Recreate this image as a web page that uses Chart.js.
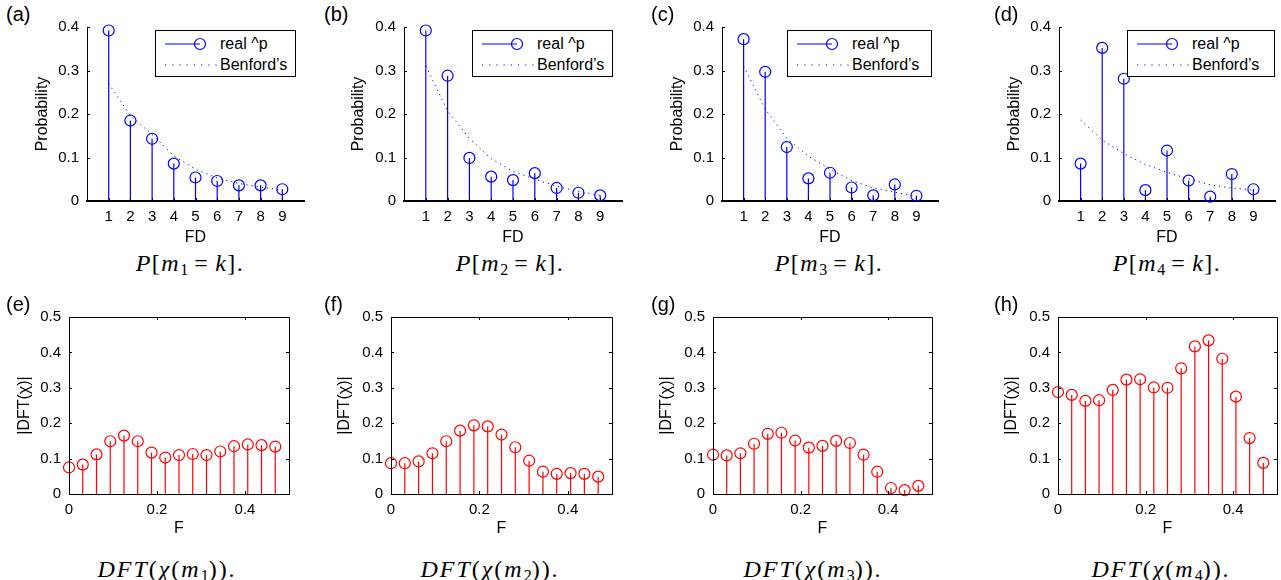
<!DOCTYPE html>
<html>
<head>
<meta charset="utf-8">
<script src="https://cdn.jsdelivr.net/npm/chart.js@4/dist/chart.umd.min.js"></script>
<style>
  html, body { margin: 0; padding: 0; background: #fff; }
  #fig { position: relative; width: 1281px; height: 580px; overflow: hidden; font-family: 'Liberation Sans', Arial, sans-serif; color: #000; }
  #fig canvas { position: absolute; }
  .plabel { position: absolute; font-size: 20px; line-height: 20px; white-space: nowrap; }
  .caption { position: absolute; font-family: 'Liberation Serif', 'DejaVu Serif', serif; font-size: 24px; line-height: 24px; white-space: nowrap; transform: translateX(-50%); letter-spacing: 1.5px; }
  .caption.dft { letter-spacing: 2px; }
  .caption .eq { margin: 0 6px; }
  .caption sub { font-size: 16px; vertical-align: -4px; line-height: 0; letter-spacing: 0; }
  .legend { position: absolute; top: 30px; height: 47px; border: 1.5px solid #000; box-sizing: border-box; background: #fff; font-size: 16px; }
  .legend svg { position: absolute; left: 9px; }
  .legend span { position: absolute; left: 64px; line-height: 18px; white-space: nowrap; }
</style>
</head>
<body>
<div id="fig"></div>
<script>
// ── DATA ──
const fdTicks = [1, 2, 3, 4, 5, 6, 7, 8, 9]
const probTicks = [0, 0.1, 0.2, 0.3, 0.4]

const realM1 = [0.392, 0.185, 0.143, 0.086, 0.054, 0.046, 0.036, 0.036, 0.027]
const realM2 = [0.392, 0.288, 0.099, 0.056, 0.048, 0.064, 0.030, 0.019, 0.013]
const realM3 = [0.372, 0.297, 0.124, 0.052, 0.065, 0.031, 0.013, 0.038, 0.012]
const realM4 = [0.086, 0.352, 0.281, 0.025, 0.116, 0.047, 0.010, 0.062, 0.027]

const benfordM1 = [0.270, 0.196, 0.153, 0.104, 0.073, 0.053, 0.040, 0.032, 0.025]
const benfordM2 = [0.310, 0.207, 0.144, 0.097, 0.068, 0.050, 0.034, 0.022, 0.013]
const benfordM3 = [0.310, 0.211, 0.144, 0.103, 0.073, 0.047, 0.030, 0.020, 0.011]
const benfordM4 = [0.186, 0.140, 0.109, 0.084, 0.066, 0.051, 0.037, 0.030, 0.025]

const fBins = [0, 0.03125, 0.0625, 0.09375, 0.125, 0.15625, 0.1875, 0.21875,
               0.25, 0.28125, 0.3125, 0.34375, 0.375, 0.40625, 0.4375, 0.46875]
const fTicks = [0, 0.2, 0.4]
const dftTicks = [0, 0.1, 0.2, 0.3, 0.4, 0.5]

const dftM1 = [0.075, 0.083, 0.112, 0.149, 0.165, 0.149, 0.117, 0.103, 0.110, 0.113, 0.110, 0.120, 0.135, 0.140, 0.138, 0.134]
const dftM2 = [0.087, 0.087, 0.092, 0.115, 0.149, 0.179, 0.194, 0.191, 0.168, 0.132, 0.094, 0.063, 0.057, 0.059, 0.057, 0.049]
const dftM3 = [0.111, 0.109, 0.115, 0.142, 0.170, 0.173, 0.151, 0.131, 0.136, 0.150, 0.144, 0.111, 0.063, 0.017, 0.011, 0.023]
const dftM4 = [0.288, 0.280, 0.263, 0.265, 0.294, 0.323, 0.324, 0.301, 0.300, 0.355, 0.417, 0.434, 0.382, 0.275, 0.158, 0.088]

// ── LAYOUT ──
const BLUE = '#0000ff'
const RED = '#ff0000'
const fig = document.getElementById('fig')

Chart.defaults.font.family = "'Liberation Sans', Arial, sans-serif"
Chart.defaults.color = '#000'

const topPanels = [
  { tag: '(a)', n: 1, real: realM1, benford: benfordM1, left: 87,   right: 304,  titleX: 43,   legLeft: 155,  legW: 141, capX: 190 },
  { tag: '(b)', n: 2, real: realM2, benford: benfordM2, left: 404,  right: 622,  titleX: 359,  legLeft: 472,  legW: 141, capX: 510 },
  { tag: '(c)', n: 3, real: realM3, benford: benfordM3, left: 722,  right: 938,  titleX: 678,  legLeft: 787,  legW: 145, capX: 829 },
  { tag: '(d)', n: 4, real: realM4, benford: benfordM4, left: 1059, right: 1275, titleX: 1015, legLeft: 1127, legW: 148, capX: 1167 }
]
const bottomPanels = [
  { tag: '(e)', n: 1, vals: dftM1, left: 69,   right: 289,  titleX: 25,   capX: 167 },
  { tag: '(f)', n: 2, vals: dftM2, left: 391,  right: 612,  titleX: 345,  capX: 490 },
  { tag: '(g)', n: 3, vals: dftM3, left: 713,  right: 932,  titleX: 667,  capX: 813 },
  { tag: '(h)', n: 4, vals: dftM4, left: 1058, right: 1277, titleX: 1012, capX: 1161 }
]
const tagX = [6, 324, 651, 994]

// ── MATLAB-STYLE AXES (inward ticks, optional box) ──
const matlabAxes = {
  id: 'matlabAxes',
  afterDraw(chart, args, opts) {
    const { ctx, chartArea: a, scales: { x, y } } = chart
    const tl = 3
    ctx.save()
    ctx.strokeStyle = '#000'
    ctx.lineWidth = 1
    ctx.beginPath()
    x.ticks.forEach(t => {
      const px = Math.round(x.getPixelForValue(t.value)) + 0.5
      ctx.moveTo(px, a.bottom); ctx.lineTo(px, a.bottom - tl)
      if (opts.box) { ctx.moveTo(px, a.top); ctx.lineTo(px, a.top + tl) }
    })
    y.ticks.forEach(t => {
      const py = Math.round(y.getPixelForValue(t.value)) + 0.5
      ctx.moveTo(a.left, py); ctx.lineTo(a.left + tl, py)
      if (opts.box) { ctx.moveTo(a.right, py); ctx.lineTo(a.right - tl, py) }
    })
    if (opts.box) ctx.rect(Math.round(a.left) + 0.5, Math.round(a.top) + 0.5, Math.round(a.right - a.left), Math.round(a.bottom - a.top))
    ctx.stroke()
    ctx.restore()
  }
}

function addDiv(cls, html, style) {
  const el = document.createElement('div')
  el.className = cls
  el.innerHTML = html
  Object.assign(el.style, style)
  fig.appendChild(el)
  return el
}

function stemChart(p, cfg) {
  const padTop = 12, padRight = 8
  const yW = Math.round(p.left - (p.titleX - 9.6))
  const w = yW + (p.right - p.left) + padRight
  const h = padTop + (cfg.bottom - cfg.top) + cfg.xH
  const canvas = document.createElement('canvas')
  canvas.width = w
  canvas.height = h
  canvas.style.left = (p.left - yW) + 'px'
  canvas.style.top = (cfg.top - padTop) + 'px'
  fig.appendChild(canvas)

  const pts = cfg.xs.map((x, i) => ({ x, y: cfg.ys[i] }))
  const datasets = [
    { type: 'scatter', data: pts, pointStyle: 'circle', pointRadius: 5.5, pointBorderWidth: 1.2,
      pointBorderColor: cfg.color, pointBackgroundColor: 'rgba(0,0,0,0)', clip: false, order: 0 },
    { type: 'bar', data: pts, backgroundColor: cfg.color, barThickness: 1.2, inflateAmount: 0, order: 1 }
  ]
  if (cfg.benford) {
    datasets.push({ type: 'line', data: cfg.xs.map((x, i) => ({ x, y: cfg.benford[i] })),
      borderColor: BLUE, borderWidth: 1, borderDash: [1.2, 4], pointRadius: 0, fill: false, tension: 0, order: 2 })
  }

  const tickFont = { size: 15 }
  const titleFont = { size: 16 }
  new Chart(canvas, {
    type: 'bar',
    data: { datasets },
    options: {
      responsive: false,
      animation: false,
      events: [],
      layout: { padding: { top: padTop, right: padRight, left: 0, bottom: 0 } },
      plugins: { legend: { display: false }, tooltip: { enabled: false }, matlabAxes: { box: cfg.box } },
      scales: {
        x: {
          type: 'linear', min: cfg.xMin, max: cfg.xMax, offset: false,
          grid: { display: false, drawTicks: false },
          border: { display: true, color: '#000', width: cfg.xBorder },
          ticks: { font: tickFont, color: '#000', padding: 7, maxRotation: 0, autoSkip: false, callback: v => String(v) },
          afterBuildTicks: s => { s.ticks = cfg.xTicks.map(v => ({ value: v })) },
          afterFit: s => { s.height = cfg.xH },
          title: { display: true, text: cfg.xTitle, font: titleFont, color: '#000', padding: 0 }
        },
        y: {
          type: 'linear', min: 0, max: cfg.yMax,
          grid: { display: false, drawTicks: false },
          border: { display: true, color: '#000', width: 1 },
          ticks: { font: tickFont, color: '#000', padding: 8, autoSkip: false, callback: v => String(v) },
          afterBuildTicks: s => { s.ticks = cfg.yTicks.map(v => ({ value: v })) },
          afterFit: s => { s.width = yW },
          title: { display: true, text: cfg.yTitle, font: titleFont, color: '#000', padding: 0 }
        }
      }
    },
    plugins: [matlabAxes]
  })
}

// ── TOP ROW: first-digit distributions ──
topPanels.forEach((p, i) => {
  stemChart(p, {
    top: 22, bottom: 201, xH: 46, xs: fdTicks, ys: p.real, benford: p.benford, color: BLUE,
    xMin: 0, xMax: 10, xTicks: fdTicks, yMax: 0.4, yTicks: probTicks,
    xTitle: 'FD', yTitle: 'Probability', xBorder: 2, box: false
  })
  addDiv('plabel', p.tag, { left: tagX[i] + 'px', top: '4px' })
  addDiv('caption', `<i>P</i>[<i>m</i><sub>${p.n}</sub><span class="eq">=</span><i>k</i>].`, { left: p.capX + 'px', top: '251px' })
  addDiv('legend',
    `<svg width="50" height="14" style="top:6px"><line x1="0" y1="7" x2="35" y2="7" stroke="${BLUE}" stroke-width="1"/>` +
    `<circle cx="35" cy="7" r="5.5" fill="none" stroke="${BLUE}" stroke-width="1.2"/></svg>` +
    `<span style="top:4px">real ^p</span>` +
    `<svg width="56" height="14" style="top:27px"><line x1="0" y1="7" x2="52" y2="7" stroke="${BLUE}" stroke-width="1" stroke-dasharray="1.2 6"/></svg>` +
    `<span style="top:25px">Benford’s</span>`,
    { left: p.legLeft + 'px', width: p.legW + 'px' })
})

// ── BOTTOM ROW: DFT magnitudes ──
bottomPanels.forEach((p, i) => {
  stemChart(p, {
    top: 312, bottom: 494, xH: 44, xs: fBins, ys: p.vals, color: RED,
    xMin: 0, xMax: 0.5, xTicks: fTicks, yMax: 0.5, yTicks: dftTicks,
    xTitle: 'F', yTitle: '|DFT(χ)|', xBorder: 1, box: true
  })
  addDiv('plabel', p.tag, { left: tagX[i] + 'px', top: '294px' })
  addDiv('caption dft', `<i>DFT</i>(<i>χ</i>(<i>m</i><sub>${p.n}</sub>)).`, { left: p.capX + 'px', top: '557px' })
})
</script>
</body>
</html>
